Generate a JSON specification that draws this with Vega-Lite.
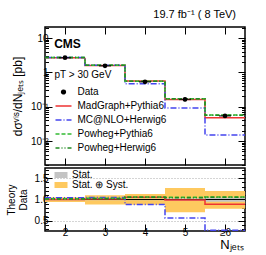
{
  "$schema": "https://vega.github.io/schema/vega-lite/v6.json",
  "padding": {"left": 5, "top": 7, "right": 13, "bottom": 0},
  "spacing": 0,
  "config": {
    "font": "Liberation Sans",
    "view": {"stroke": "black", "strokeWidth": 1.5},
    "axis": {"domain": false, "grid": false, "tickColor": "black", "tickSize": -7, "tickWidth": 1, "labelFontSize": 10, "labelColor": "black", "titleFontWeight": "normal", "titleColor": "black", "labelPadding": 4},
    "legend": {"labelColor": "black", "titleColor": "black"}
  },
  "resolve": {"scale": {"color": "independent", "strokeDash": "independent", "fill": "independent"}, "legend": {"color": "independent", "strokeDash": "independent", "fill": "independent"}},
  "datasets": {
    "theory": [
      {"series": "MadGraph+Pythia6", "n": 2, "lo": 1.5, "hi": 2.5, "xs": 2.68, "r": 1.0},
      {"series": "MadGraph+Pythia6", "n": 3, "lo": 2.5, "hi": 3.5, "xs": 1.58, "r": 1.01},
      {"series": "MadGraph+Pythia6", "n": 4, "lo": 3.5, "hi": 4.5, "xs": 0.56, "r": 1.05},
      {"series": "MadGraph+Pythia6", "n": 5, "lo": 4.5, "hi": 5.5, "xs": 0.161, "r": 0.99},
      {"series": "MadGraph+Pythia6", "n": 6, "lo": 5.5, "hi": 6.5, "xs": 0.048, "r": 0.89},
      {"series": "MC@NLO+Herwig6", "n": 2, "lo": 1.5, "hi": 2.5, "xs": 2.73, "r": 1.04},
      {"series": "MC@NLO+Herwig6", "n": 3, "lo": 2.5, "hi": 3.5, "xs": 1.61, "r": 1.045},
      {"series": "MC@NLO+Herwig6", "n": 4, "lo": 3.5, "hi": 4.5, "xs": 0.466, "r": 0.88},
      {"series": "MC@NLO+Herwig6", "n": 5, "lo": 4.5, "hi": 5.5, "xs": 0.092, "r": 0.566},
      {"series": "MC@NLO+Herwig6", "n": 6, "lo": 5.5, "hi": 6.5, "xs": 0.015, "r": 0.28},
      {"series": "Powheg+Pythia6", "n": 2, "lo": 1.5, "hi": 2.5, "xs": 2.73, "r": 1.02},
      {"series": "Powheg+Pythia6", "n": 3, "lo": 2.5, "hi": 3.5, "xs": 1.61, "r": 1.03},
      {"series": "Powheg+Pythia6", "n": 4, "lo": 3.5, "hi": 4.5, "xs": 0.556, "r": 1.06},
      {"series": "Powheg+Pythia6", "n": 5, "lo": 4.5, "hi": 5.5, "xs": 0.171, "r": 1.05},
      {"series": "Powheg+Pythia6", "n": 6, "lo": 5.5, "hi": 6.5, "xs": 0.057, "r": 1.06},
      {"series": "Powheg+Herwig6", "n": 2, "lo": 1.5, "hi": 2.5, "xs": 2.71, "r": 1.01},
      {"series": "Powheg+Herwig6", "n": 3, "lo": 2.5, "hi": 3.5, "xs": 1.6, "r": 1.02},
      {"series": "Powheg+Herwig6", "n": 4, "lo": 3.5, "hi": 4.5, "xs": 0.551, "r": 1.05},
      {"series": "Powheg+Herwig6", "n": 5, "lo": 4.5, "hi": 5.5, "xs": 0.17, "r": 1.04},
      {"series": "Powheg+Herwig6", "n": 6, "lo": 5.5, "hi": 6.5, "xs": 0.0567, "r": 1.05}
    ],
    "meas": [
      {"n": 2, "lo": 1.5, "hi": 2.5, "xs": 2.68, "elo": 2.58, "ehi": 2.78, "slo": 0.985, "shi": 1.015, "tlo": 0.94, "thi": 1.05},
      {"n": 3, "lo": 2.5, "hi": 3.5, "xs": 1.55, "elo": 1.47, "ehi": 1.63, "slo": 0.985, "shi": 1.015, "tlo": 0.885, "thi": 1.1},
      {"n": 4, "lo": 3.5, "hi": 4.5, "xs": 0.53, "elo": 0.5, "ehi": 0.56, "slo": 0.98, "shi": 1.02, "tlo": 0.875, "thi": 1.13},
      {"n": 5, "lo": 4.5, "hi": 5.5, "xs": 0.163, "elo": 0.143, "ehi": 0.186, "slo": 0.97, "shi": 1.03, "tlo": 0.7, "thi": 1.27},
      {"n": 6, "lo": 5.5, "hi": 6.5, "xs": 0.054, "elo": 0.049, "ehi": 0.059, "slo": 0.945, "shi": 1.045, "tlo": 0.78, "thi": 1.2}
    ]
  },
  "vconcat": [
    {
      "width": 200,
      "height": 138,
      "title": {"text": "19.7 fb⁻¹ ( 8 TeV)", "anchor": "end", "fontSize": 11, "fontWeight": "normal", "color": "black", "offset": 7, "dx": -12},
      "resolve": {"axis": {"x": "independent", "y": "independent"}},
      "layer": [
        {
          "data": {"name": "theory"},
          "transform": [{"fold": ["lo", "hi"], "as": ["edge", "xe"]}],
          "mark": {"type": "line", "strokeWidth": 1.5},
          "encoding": {
            "x": {"field": "xe", "type": "quantitative", "scale": {"domain": [1.5, 6.5], "nice": false, "zero": false}, "axis": {"orient": "bottom", "values": [2, 3, 4, 5, 6], "labels": false, "title": null, "minExtent": 0, "maxExtent": 0}},
            "y": {"field": "xs", "type": "quantitative", "scale": {"type": "log", "domain": [0.002, 21], "nice": false}, "axis": {"orient": "left", "values": [0.01, 0.1, 1, 10], "labelOverlap": false, "labelExpr": "datum.value > 5 ? '10' : datum.value > 0.5 ? '1' : datum.value > 0.05 ? '10⁻¹' : '10⁻²'", "title": "dσᵛⁱˢ/dNⱼₑₜₛ [pb]", "titleFontSize": 12, "titlePadding": 6}},
            "color": {"field": "series", "type": "nominal", "scale": {"domain": ["Data", "MadGraph+Pythia6", "MC@NLO+Herwig6", "Powheg+Pythia6", "Powheg+Herwig6"], "range": ["black", "#ee3333", "#4444ee", "#33bb33", "#228b22"]},
              "legend": {"title": "pT > 30 GeV", "orient": "none", "legendX": 9.5, "legendY": 43, "titleFontSize": 10, "titleFontWeight": "normal", "labelFontSize": 10, "rowPadding": -1.2, "labelOffset": 5, "titlePadding": 3, "symbolStrokeWidth": 1.5, "padding": 0,
                "encode": {"symbols": {"update": {
                  "shape": {"signal": "datum.value === 'Data' ? 'circle' : 'stroke'"},
                  "size": {"signal": "datum.value === 'Data' ? 14 : 256"},
                  "fill": {"signal": "datum.value === 'Data' ? 'black' : 'transparent'"},
                  "strokeDash": {"signal": "datum.value === 'MC@NLO+Herwig6' ? [6,2,1,2] : datum.value === 'Powheg+Pythia6' ? [4,2] : datum.value === 'Powheg+Herwig6' ? [4,2,1,2,1,2] : [1,0]"},
                  "strokeWidth": {"value": 1.5}
                }}}}},
            "strokeDash": {"field": "series", "type": "nominal", "scale": {"domain": ["MadGraph+Pythia6", "MC@NLO+Herwig6", "Powheg+Pythia6", "Powheg+Herwig6"], "range": [[1, 0], [6, 2, 1, 2], [4, 2], [4, 2, 1, 2, 1, 2]]}, "legend": null},
            "order": [{"field": "xe", "type": "quantitative"}, {"field": "edge", "type": "nominal"}]
          }
        },
        {
          "data": {"name": "meas"},
          "mark": {"type": "rule", "color": "black", "strokeWidth": 1.5},
          "encoding": {
            "x": {"field": "n", "type": "quantitative", "axis": {"orient": "top", "values": [2, 3, 4, 5, 6], "labels": false, "title": null, "minExtent": 0, "maxExtent": 0}},
            "y": {"field": "elo", "type": "quantitative", "axis": {"orient": "right", "values": [0.01, 0.1, 1, 10], "labels": false, "title": null, "minExtent": 0, "maxExtent": 0}},
            "y2": {"field": "ehi"}
          }
        },
        {
          "data": {"name": "meas"},
          "mark": {"type": "tick", "orient": "horizontal", "color": "black", "size": 12, "thickness": 1.5},
          "encoding": {
            "x": {"field": "n", "type": "quantitative", "axis": null},
            "y": {"field": "xs", "type": "quantitative", "axis": {"orient": "left", "values": [0.002, 0.003, 0.004, 0.005, 0.006, 0.007, 0.008, 0.009, 0.02, 0.03, 0.04, 0.05, 0.06, 0.07, 0.08, 0.09, 0.2, 0.3, 0.4, 0.5, 0.6, 0.7, 0.8, 0.9, 2, 3, 4, 5, 6, 7, 8, 9, 20], "labels": false, "tickSize": -3.5, "title": null, "minExtent": 0, "maxExtent": 0}}
          }
        },
        {
          "data": {"name": "meas"},
          "mark": {"type": "point", "filled": true, "size": 22, "opacity": 1},
          "encoding": {
            "x": {"field": "n", "type": "quantitative", "axis": null},
            "y": {"field": "xs", "type": "quantitative", "axis": {"orient": "right", "values": [0.002, 0.003, 0.004, 0.005, 0.006, 0.007, 0.008, 0.009, 0.02, 0.03, 0.04, 0.05, 0.06, 0.07, 0.08, 0.09, 0.2, 0.3, 0.4, 0.5, 0.6, 0.7, 0.8, 0.9, 2, 3, 4, 5, 6, 7, 8, 9, 20], "labels": false, "tickSize": -3.5, "title": null, "minExtent": 0, "maxExtent": 0}},
            "color": {"datum": "Data"}
          }
        },
        {
          "data": {"values": [{"label": "CMS"}]},
          "mark": {"type": "text", "fontWeight": "bold", "fontSize": 12, "align": "left", "baseline": "middle", "color": "black"},
          "encoding": {
            "x": {"datum": 1.73, "type": "quantitative", "axis": null},
            "y": {"datum": 6.7, "type": "quantitative", "axis": null},
            "text": {"field": "label"}
          }
        }
      ]
    },
    {
      "width": 200,
      "height": 63,
      "resolve": {"axis": {"x": "independent", "y": "independent"}},
      "layer": [
        {
          "data": {"name": "meas"},
          "mark": {"type": "rect"},
          "encoding": {
            "x": {"field": "lo", "type": "quantitative", "scale": {"domain": [1.5, 6.5], "nice": false, "zero": false}, "axis": {"orient": "bottom", "values": [2, 3, 4, 5, 6], "labelExpr": "datum.value == 6 ? '≥6' : datum.label", "labelPadding": 3, "title": "Nⱼₑₜₛ", "titleAnchor": "end", "titleFontSize": 13, "titlePadding": 1, "titleX": 198}},
            "x2": {"field": "hi"},
            "y": {"field": "tlo", "type": "quantitative", "scale": {"domain": [0.26, 1.74], "nice": false, "zero": false}, "axis": {"orient": "left", "values": [0.5, 1, 1.5], "grid": true, "gridDash": [1, 2], "gridColor": "#aaaaaa", "title": ["Theory", "Data"], "titleFontSize": 10, "titlePadding": 6}},
            "y2": {"field": "thi"},
            "fill": {"datum": "Stat. ⊕ Syst.", "scale": {"domain": ["Stat.", "Stat. ⊕ Syst."], "range": ["#c4c4c4", "#fec95f"]},
              "legend": {"title": null, "orient": "none", "legendX": 11, "legendY": 2, "labelFontSize": 10, "rowPadding": 0, "labelOffset": 6, "symbolType": "M-1.3,-0.6H1.3V0.6H-1.3Z", "symbolSize": 100, "symbolStrokeWidth": 0, "padding": 0}}
          }
        },
        {
          "data": {"name": "meas"},
          "mark": {"type": "rect"},
          "encoding": {
            "x": {"field": "lo", "type": "quantitative", "axis": {"orient": "top", "values": [2, 3, 4, 5, 6], "labels": false, "title": null, "ticks": false, "minExtent": 0, "maxExtent": 0}},
            "x2": {"field": "hi"},
            "y": {"field": "slo", "type": "quantitative", "axis": {"orient": "right", "values": [0.5, 1, 1.5], "labels": false, "title": null, "minExtent": 0, "maxExtent": 0}},
            "y2": {"field": "shi"},
            "fill": {"datum": "Stat."}
          }
        },
        {
          "data": {"values": [{"v": 1}]},
          "mark": {"type": "rule", "color": "black", "strokeWidth": 1},
          "encoding": {
            "y": {"field": "v", "type": "quantitative", "axis": {"orient": "left", "values": [0.3, 0.4, 0.6, 0.7, 0.8, 0.9, 1.1, 1.2, 1.3, 1.4, 1.6, 1.7], "labels": false, "tickSize": -3.5, "title": null, "minExtent": 0, "maxExtent": 0}}
          }
        },
        {
          "data": {"name": "theory"},
          "transform": [{"fold": ["lo", "hi"], "as": ["edge", "xe"]}],
          "mark": {"type": "line", "strokeWidth": 1.5},
          "encoding": {
            "x": {"field": "xe", "type": "quantitative", "axis": null},
            "y": {"field": "r", "type": "quantitative", "axis": {"orient": "right", "values": [0.3, 0.4, 0.6, 0.7, 0.8, 0.9, 1.1, 1.2, 1.3, 1.4, 1.6, 1.7], "labels": false, "tickSize": -3.5, "title": null, "minExtent": 0, "maxExtent": 0}},
            "color": {"field": "series", "type": "nominal", "scale": {"domain": ["MadGraph+Pythia6", "MC@NLO+Herwig6", "Powheg+Pythia6", "Powheg+Herwig6"], "range": ["#ee3333", "#4444ee", "#33bb33", "#228b22"]}, "legend": null},
            "strokeDash": {"field": "series", "type": "nominal", "scale": {"domain": ["MadGraph+Pythia6", "MC@NLO+Herwig6", "Powheg+Pythia6", "Powheg+Herwig6"], "range": [[1, 0], [6, 2, 1, 2], [4, 2], [4, 2, 1, 2, 1, 2]]}, "legend": null},
            "order": [{"field": "xe", "type": "quantitative"}, {"field": "edge", "type": "nominal"}]
          }
        }
      ]
    }
  ]
}
